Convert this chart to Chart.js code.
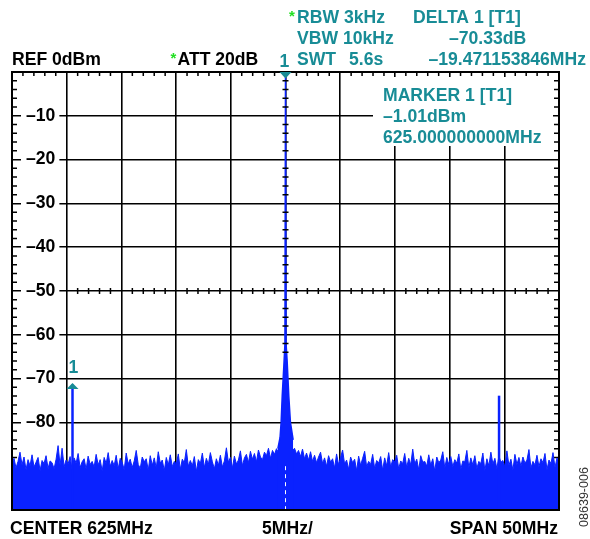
<!DOCTYPE html>
<html>
<head>
<meta charset="utf-8">
<script src="https://cdn.jsdelivr.net/npm/chart.js@4.4.0/dist/chart.umd.min.js"></script>
<style>
  html, body { margin: 0; padding: 0; background: #fff; }
  #wrap { position: relative; width: 590px; height: 539px; }
</style>
</head>
<body>
<div id="wrap"><canvas id="spectrum"></canvas></div>
<script>
// sweep: 600 MHz .. 650 MHz, ref level 0 dBm, 10 dB/div
var START_MHZ = 600;
var STOP_MHZ = 650;
var TOP_DBM = 0;
var BOTTOM_DBM = -100;
var X_STEP = 5;
var Y_STEP = 10;

// noise floor (points evenly spread over the span)
var noiseDbm = [
  -89.6, -88.2, -90.4, -88.9, -86.8, -89.7, -87.9, -90.8, -88.5, -89.9, -87.4, -90.2, -89.1, -88.0, -91.0, -88.7, -89.4, -87.6, -90.5, -88.8,
  -89.2, -90.6, -88.4, -85.3, -89.8, -85.9, -90.1, -88.6, -89.5, -87.8, -90.9, -88.1, -89.3, -87.1, -90.3, -89.0, -88.3, -90.7, -87.7, -89.6,
  -88.9, -90.2, -87.3, -89.7, -88.5, -91.1, -88.0, -89.4, -86.9, -90.0, -88.7, -89.9, -87.5, -90.6, -88.2, -89.1, -90.8, -87.0, -89.5, -88.4,
  -90.3, -88.8, -86.4, -89.6, -90.5, -87.9, -89.0, -88.3, -90.9, -87.6, -89.8, -88.1, -90.4, -86.7, -89.3, -88.6, -91.0, -88.0, -89.7, -87.4,
  -90.1, -88.9, -89.5, -87.2, -90.7, -88.4, -89.2, -86.2, -90.0, -88.7, -89.9, -87.8, -91.2, -88.5, -89.4, -87.0, -90.3, -88.2, -89.6, -86.9,
  -89.0, -90.6, -88.3, -89.8, -87.5, -90.2, -88.8, -85.8, -89.1, -88.0, -90.4, -87.7, -89.5, -88.6, -86.5, -89.9, -88.1, -87.3, -89.2, -86.6,
  -88.4, -87.1, -89.0, -86.3, -87.9, -88.5, -86.8, -87.6, -85.9, -88.2, -86.4, -87.3, -86.0, -86.9, -85.6, -86.2, -85.4, -85.8, -86.1, -85.3,
  -86.5, -85.9, -87.2, -86.4, -87.8, -86.1, -88.3, -87.0, -88.6, -86.7, -88.9, -87.5, -89.2, -87.9, -86.8, -89.4, -88.1, -90.0, -87.6, -89.1,
  -88.3, -90.4, -87.2, -89.7, -88.0, -86.3, -89.5, -88.6, -90.7, -87.9, -89.2, -88.4, -91.0, -87.7, -89.8, -88.2, -86.6, -90.1, -88.9, -89.6,
  -87.3, -90.5, -88.7, -89.3, -87.8, -90.9, -88.1, -89.9, -86.9, -90.2, -88.5, -89.0, -87.5, -90.6, -88.8, -89.4, -87.1, -90.3, -88.2, -89.7,
  -86.1, -89.5, -88.4, -90.8, -87.6, -89.1, -88.9, -90.0, -87.4, -89.8, -88.3, -91.1, -87.9, -89.2, -88.6, -86.7, -90.4, -88.0, -89.6, -87.8,
  -90.1, -88.5, -89.3, -87.2, -90.7, -88.8, -89.0, -86.4, -90.3, -88.1, -89.7, -87.6, -90.5, -88.9, -89.4, -87.0, -91.0, -88.3, -89.9, -86.8,
  -89.5, -88.2, -90.6, -87.7, -89.1, -88.7, -90.2, -86.5, -89.8, -88.4, -90.9, -87.3, -89.6, -88.0, -90.0, -87.9, -89.3, -88.6, -86.2, -90.4,
  -88.9, -89.7, -87.5, -90.1, -88.3, -89.2, -87.1, -90.8, -88.6, -89.4, -86.9, -90.3, -88.1, -89.0
];

// carrier at 625 MHz
var carrierMhz = [624.3, 624.5, 624.6, 624.7, 624.85, 624.95, 625.0, 625.05, 625.15, 625.3, 625.45, 625.7];
var carrierDbm = [-86.0, -83.5, -80.0, -74.0, -67.0, -62.0, -1.01, -62.0, -66.0, -74.0, -80.0, -84.0];

// spurs
var spurMhz = [605.53, 644.52];
var spurDbm = [-71.34, -73.9];

// markers: M1 on the carrier, D1 on the spur
var markerMhz = [625.0, 605.53];
var markerDbm = [-1.01, -71.34];
var markerLabels = ['1', '1'];

var FONT = '"Liberation Sans", Arial, Helvetica, sans-serif';
var TEAL = '#188c96';
var BLUE = '#0a22ff';
var GREEN = '#22e022';

var noiseStep = (STOP_MHZ - START_MHZ) / (noiseDbm.length - 1);
var noisePts = noiseDbm.map(function (v, i) { return { x: START_MHZ + i * noiseStep, y: v }; });
var carrierPts = carrierMhz.map(function (f, i) { return { x: f, y: carrierDbm[i] }; });

var datasets = [
  { data: noisePts, borderColor: BLUE, backgroundColor: BLUE, borderWidth: 1, fill: 'start', pointRadius: 0, tension: 0, order: 3 },
  { data: carrierPts, borderColor: BLUE, backgroundColor: BLUE, borderWidth: 1.5, fill: 'start', pointRadius: 0, tension: 0, order: 2 }
];
spurMhz.forEach(function (f, i) {
  datasets.push({
    data: [{ x: f, y: BOTTOM_DBM }, { x: f, y: spurDbm[i] }],
    borderColor: BLUE, borderWidth: 2.5, fill: false, pointRadius: 0, order: 1
  });
});

function txt(ctx, s, x, y, color, size, weight, align) {
  ctx.fillStyle = color;
  ctx.font = (weight || 'bold') + ' ' + (size || 17.6) + 'px ' + FONT;
  ctx.textAlign = align || 'left';
  ctx.textBaseline = 'alphabetic';
  ctx.fillText(s, x, y);
}

var analyzerDecor = {
  id: 'analyzerDecor',
  beforeDatasetsDraw: function (chart) {
    var ctx = chart.ctx, a = chart.chartArea, xs = chart.scales.x, ys = chart.scales.y;
    var p50 = ys.getPixelForValue(-50);
    ctx.save();
    ctx.strokeStyle = '#000';
    ctx.lineWidth = 1.5;
    ctx.beginPath();
    for (var f = START_MHZ + 1; f < STOP_MHZ; f++) {
      if (f % X_STEP === 0) continue;
      var px = xs.getPixelForValue(f);
      ctx.moveTo(px, a.top); ctx.lineTo(px, a.top + 4);
      // first division of the -50 line sits under its label
      if (f > START_MHZ + X_STEP) {
        ctx.moveTo(px, p50 - 3); ctx.lineTo(px, p50 + 3);
      }
    }
    for (var d = TOP_DBM - 2; d > BOTTOM_DBM; d -= 2) {
      if (d % Y_STEP === 0) continue;
      var py = ys.getPixelForValue(d);
      ctx.moveTo(a.left, py); ctx.lineTo(a.left + 5, py);
      ctx.moveTo(a.right - 5, py); ctx.lineTo(a.right, py);
    }
    ctx.stroke();
    ctx.restore();
  },
  afterDatasetsDraw: function (chart) {
    var ctx = chart.ctx, a = chart.chartArea, xs = chart.scales.x, ys = chart.scales.y;
    var cx = xs.getPixelForValue((START_MHZ + STOP_MHZ) / 2);
    ctx.save();
    // centre line minor ticks above the carrier skirt
    ctx.strokeStyle = '#000';
    ctx.lineWidth = 1.5;
    ctx.beginPath();
    for (var d = TOP_DBM - 2; d > -65; d -= 2) {
      if (d % Y_STEP === 0) continue;
      var py = ys.getPixelForValue(d);
      ctx.moveTo(cx - 3, py); ctx.lineTo(cx + 3, py);
    }
    ctx.stroke();
    // centre line shows through the noise as a dashed white line
    ctx.strokeStyle = '#fff';
    ctx.lineWidth = 1;
    ctx.setLineDash([4, 4]);
    ctx.beginPath();
    ctx.moveTo(cx, ys.getPixelForValue(-90)); ctx.lineTo(cx, a.bottom);
    ctx.stroke();
    ctx.setLineDash([]);
    // marker readout box
    ctx.fillStyle = '#fff';
    ctx.fillRect(373, a.top + 5, a.right - 6 - 373, 146 - a.top - 5);
    // frame
    ctx.strokeStyle = '#000';
    ctx.lineWidth = 2;
    ctx.strokeRect(a.left, a.top, a.right - a.left, a.bottom - a.top);
    // markers
    ctx.fillStyle = TEAL;
    var m1x = xs.getPixelForValue(markerMhz[0]);
    ctx.beginPath();
    ctx.moveTo(m1x - 6, a.top); ctx.lineTo(m1x + 6, a.top); ctx.lineTo(m1x, a.top + 6.5);
    ctx.closePath(); ctx.fill();
    txt(ctx, markerLabels[0], m1x - 1, a.top - 5, TEAL, 17.6, 'bold', 'center');
    var d1x = xs.getPixelForValue(markerMhz[1]);
    var d1y = ys.getPixelForValue(markerDbm[1]) - 1.5;
    ctx.fillStyle = TEAL;
    ctx.beginPath();
    ctx.moveTo(d1x, d1y); ctx.lineTo(d1x + 6, d1y + 6); ctx.lineTo(d1x - 6, d1y + 6);
    ctx.closePath(); ctx.fill();
    txt(ctx, markerLabels[1], d1x + 1, d1y - 9.5, TEAL, 17.6, 'bold', 'center');
    ctx.restore();
  },
  afterDraw: function (chart) {
    var ctx = chart.ctx;
    ctx.save();
    txt(ctx, 'REF 0dBm', 12, 65, '#000');
    txt(ctx, '*', 170.5, 63, GREEN, 15);
    txt(ctx, 'ATT 20dB', 177.5, 65, '#000');
    txt(ctx, '*', 289, 21, GREEN, 15);
    txt(ctx, 'RBW 3kHz', 297, 23, TEAL);
    txt(ctx, 'VBW 10kHz', 297, 44, TEAL);
    txt(ctx, 'SWT', 297, 65, TEAL);
    txt(ctx, '5.6s', 349, 65, TEAL);
    txt(ctx, 'DELTA 1 [T1]', 413, 23, TEAL);
    txt(ctx, '\u201370.33dB', 449, 44, TEAL);
    txt(ctx, '\u201319.471153846MHz', 586, 65, TEAL, 17.6, 'bold', 'right');
    txt(ctx, 'MARKER 1 [T1]', 383, 100.7, TEAL);
    txt(ctx, '\u20131.01dBm', 383, 121.7, TEAL);
    txt(ctx, '625.000000000MHz', 383, 142.7, TEAL);
    txt(ctx, 'CENTER 625MHz', 10, 534, '#000');
    txt(ctx, '5MHz/', 262, 534, '#000');
    txt(ctx, 'SPAN 50MHz', 558, 534, '#000', 17.6, 'bold', 'right');
    ctx.translate(588, 497);
    ctx.rotate(-Math.PI / 2);
    txt(ctx, '08639-006', 0, 0, '#333', 12.5, 'normal', 'center');
    ctx.restore();
  }
};

new Chart(document.getElementById('spectrum'), {
  type: 'line',
  data: { datasets: datasets },
  options: {
    responsive: true,
    maintainAspectRatio: false,
    animation: false,
    layout: { padding: { left: 12, top: 72, right: 31, bottom: 29 } },
    plugins: { legend: { display: false }, tooltip: { enabled: false } },
    scales: {
      x: {
        type: 'linear',
        min: START_MHZ,
        max: STOP_MHZ,
        border: { display: false },
        grid: { color: '#000', lineWidth: 1.6, drawTicks: false },
        ticks: { display: false, stepSize: X_STEP },
        afterFit: function (s) { s.height = 0; }
      },
      y: {
        min: BOTTOM_DBM,
        max: TOP_DBM,
        border: { display: false },
        grid: { color: '#000', lineWidth: 1.6, drawTicks: false },
        afterFit: function (s) { s.width = 0; },
        ticks: {
          stepSize: Y_STEP,
          mirror: true,
          padding: 14,
          color: '#000',
          font: { family: FONT, size: 17.6, weight: 'bold' },
          showLabelBackdrop: true,
          backdropColor: '#fff',
          backdropPadding: { left: 5, right: 4, top: 0, bottom: 0 },
          callback: function (v) {
            if (v === TOP_DBM || v === BOTTOM_DBM || v === -90) return null;
            return '\u2013' + Math.abs(v);
          }
        }
      }
    }
  },
  plugins: [analyzerDecor]
});
</script>
</body>
</html>
